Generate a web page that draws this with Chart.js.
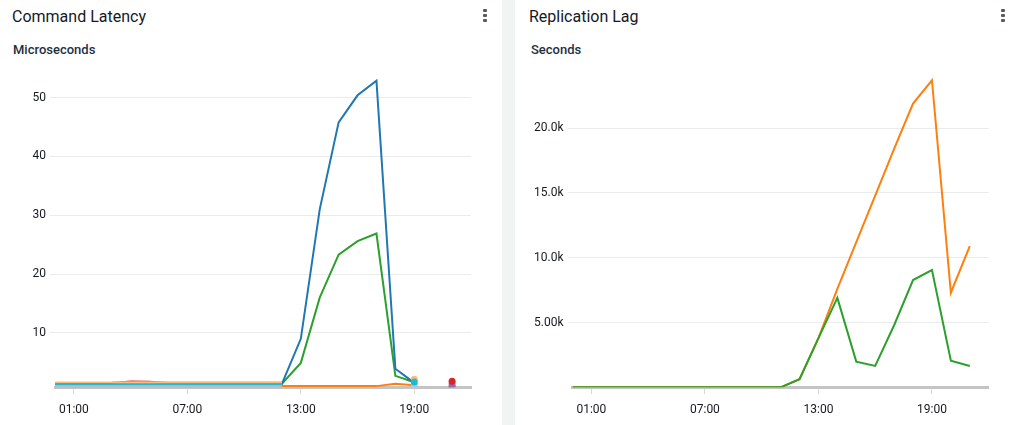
<!DOCTYPE html>
<html>
<head>
<meta charset="utf-8">
<script src="https://cdn.jsdelivr.net/npm/chart.js@4.4.1/dist/chart.umd.min.js"></script>
<style>
  html, body { margin: 0; padding: 0; background: #fff; }
  body { width: 1021px; height: 425px; position: relative; overflow: hidden; font-family: Roboto, Arial, sans-serif; color: #16191f; }
  .panel { position: absolute; top: 0; height: 425px; background: #fff; }
  .sep { position: absolute; left: 502px; top: 0; width: 13px; height: 425px; background: #f2f3f3; }
  .title { position: absolute; top: 8px; font-size: 16px; line-height: 18px; font-weight: 400; }
  .unit { position: absolute; top: 42px; font-size: 13px; line-height: 16px; font-weight: 500; color: #232f3e; }
  .kebab { position: absolute; top: 9px; width: 4px; }
  .kebab span { display: block; width: 4px; height: 3px; background: #545b64; margin-bottom: 2px; border-radius: 1px; }
  .box { position: absolute; top: 60px; height: 365px; }
</style>
</head>
<body>
<div class="panel" style="left:0;width:502px;">
  <div class="title" style="left:12px;">Command Latency</div>
  <div class="unit" style="left:13px;">Microseconds</div>
  <div class="kebab" style="left:483px;"><span></span><span></span><span></span></div>
  <div class="box" style="left:0;width:502px;"><canvas id="latency"></canvas></div>
</div>
<div class="sep"></div>
<div class="panel" style="left:515px;width:506px;">
  <div class="title" style="left:14px;">Replication Lag</div>
  <div class="unit" style="left:16px;">Seconds</div>
  <div class="kebab" style="left:486px;"><span></span><span></span><span></span></div>
  <div class="box" style="left:0;width:506px;"><canvas id="lag"></canvas></div>
</div>
<script>
const N = null;
// hours of the day, one point per hour
const hours = [0, 1, 2, 3, 4, 5, 6, 7, 8, 9, 10, 11, 12, 13, 14, 15, 16, 17, 18, 19, 20, 21];
const xTicks = [1, 7, 13, 19];

// Command Latency (microseconds)
const latBlue = [1.2, 1.2, 1.2, 1.2, 1.2, 1.2, 1.2, 1.2, 1.2, 1.2, 1.2, 1.2, 1.35, 9.0, 31.0, 45.8, 50.4, 52.9, 3.9, 1.5, N, N];
const latGreen = [1.2, 1.2, 1.2, 1.2, 1.2, 1.2, 1.2, 1.2, 1.2, 1.2, 1.2, 1.2, 1.35, 4.9, 16.0, 23.3, 25.6, 26.9, 2.7, 1.6, N, N];
const latOrange = [1.0, 1.0, 1.0, 1.0, 1.0, 1.0, 1.0, 1.0, 1.0, 1.0, 1.0, 1.0, 0.99, 0.95, 0.95, 0.95, 0.95, 0.95, 1.35, 1.1, N, N];
const latLightOrange = [1.57, 1.57, 1.57, 1.57, 1.57, 1.57, 1.57, 1.57, 1.57, 1.57, 1.57, 1.57, 1.57, N, N, N, N, N, N, 2.1, N, N];
const latSalmon = [N, N, N, 1.57, 1.57, 1.57, 1.57, 1.57, 1.57, 1.57, 1.57, 1.57, 1.57, N, N, N, N, N, N, N, N, N];
const latRed = [1.45, 1.45, 1.45, 1.5, 1.72, 1.7, 1.5, 1.45, 1.45, 1.45, 1.45, 1.45, 1.45, N, N, N, N, N, N, N, N, 1.8];
const latTeal = [1.25, 1.25, 1.25, 1.25, 1.25, 1.25, 1.25, 1.25, 1.25, 1.25, 1.25, 1.25, 1.25, N, N, N, N, N, N, 1.65, N, N];
const latLightBlue = [1.0, 1.0, 1.0, 1.0, 1.0, 1.0, 1.0, 1.0, 1.0, 1.0, 1.0, 1.0, 1.0, N, N, N, N, N, N, 1.1, N, N];
const latTan = [0.82, 0.82, 0.82, 0.82, 0.82, 0.82, 0.82, 0.82, 0.82, 0.82, 0.82, 0.82, 0.82, N, N, N, N, N, N, N, N, N];
const latPurple = [N, N, N, N, N, N, N, N, N, N, N, N, N, N, N, N, N, N, N, N, N, 1.3];
const latBrown = [N, N, N, N, N, N, N, N, N, N, N, N, N, N, N, N, N, N, N, N, N, 0.85];
const latTicks = [10, 20, 30, 40, 50];
const latTickLabels = ['10', '20', '30', '40', '50'];

// Replication Lag (seconds)
const lagOrange = [0, 0, 0, 0, 0, 0, 0, 0, 0, 0, 0, 0, 628, 3800, 7600, 11200, 14800, 18400, 21900, 23700, 7300, 10900];
const lagGreen = [0, 0, 0, 0, 0, 0, 0, 0, 0, 0, 0, 0, 628, 3800, 6900, 1980, 1650, 4790, 8280, 9050, 2050, 1650];
const lagTicks = [5000, 10000, 15000, 20000];
const lagTickLabels = ['5.00k', '10.0k', '15.0k', '20.0k'];

const pad2 = n => (n < 10 ? '0' : '') + n;

// single points with no neighbours get a dot, like the console does
const isolatedRadius = ctx => {
    const d = ctx.dataset.data;
    const i = ctx.dataIndex;
    const has = k => d[k] && d[k].y !== null && d[k].y !== undefined;
    return has(i) && !has(i - 1) && !has(i + 1) ? 3.5 : 0;
};

const series = (values, color) => ({
    data: hours.map((h, i) => ({ x: h, y: values[i] })),
    borderColor: color,
    backgroundColor: color,
    borderWidth: 2,
    tension: 0,
    spanGaps: false,
    pointRadius: isolatedRadius,
    pointBorderWidth: 0,
    pointHoverRadius: 0
});

const makeChart = (id, datasets, yMin, yMax, yTicks, yLabels, yWidth, padRight) => {
    const tickFont = { family: 'Roboto, Arial, sans-serif', size: 12 };
    return new Chart(document.getElementById(id), {
        type: 'line',
        data: { datasets },
        options: {
            responsive: true,
            maintainAspectRatio: false,
            animation: false,
            layout: { padding: { top: 8.5, right: padRight, left: 0, bottom: 0 } },
            plugins: { legend: { display: false }, tooltip: { enabled: false } },
            scales: {
                x: {
                    type: 'linear',
                    min: 0,
                    max: 22,
                    afterBuildTicks: scale => { scale.ticks = xTicks.map(v => ({ value: v })); },
                    afterFit: scale => { scale.height = 37.7; },
                    ticks: {
                        color: '#16191f',
                        font: tickFont,
                        padding: 8,
                        maxRotation: 0,
                        autoSkip: false,
                        callback: v => pad2(v) + ':00'
                    },
                    grid: { drawOnChartArea: false, drawTicks: true, tickLength: 7, color: '#d5dbdb' },
                    border: { display: true, color: '#c4c4c4', width: 3 }
                },
                y: {
                    min: yMin,
                    max: yMax,
                    afterBuildTicks: scale => { scale.ticks = yTicks.map(v => ({ value: v })); },
                    afterFit: scale => { scale.width = yWidth; },
                    ticks: {
                        color: '#16191f',
                        font: tickFont,
                        padding: 4,
                        callback: v => yLabels[yTicks.indexOf(v)]
                    },
                    grid: { color: '#e9ebed', lineWidth: 1, tickLength: 5, drawTicks: true },
                    border: { display: false }
                }
            }
        }
    });
};

makeChart('latency', [
    series(latTeal, '#17becf'),
    series(latLightOrange, '#ffbb78'),
    series(latSalmon, '#ff9896'),
    series(latRed, '#d62728'),
    series(latLightBlue, '#aec7e8'),
    series(latTan, '#c49c94'),
    series(latPurple, '#9467bd'),
    series(latBrown, '#8c564b'),
    series(latBlue, '#1f77b4'),
    series(latGreen, '#2ca02c'),
    series(latOrange, '#ff7f0e')
], 0.75, 54.5, latTicks, latTickLabels, 55, 31);

makeChart('lag', [
    series(lagGreen, '#2ca02c'),
    series(lagOrange, '#ff7f0e')
], 0, 24400, lagTicks, lagTickLabels, 57.5, 32.3);
</script>
</body>
</html>
